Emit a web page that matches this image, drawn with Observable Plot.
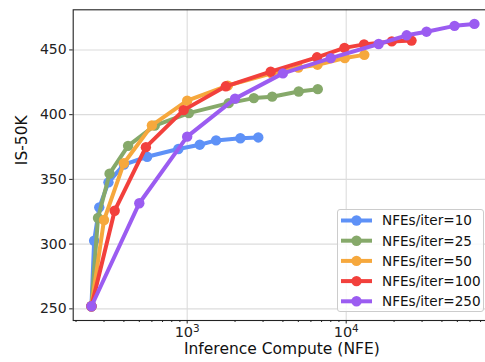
<!DOCTYPE html>
<html>
<head>
<meta charset="utf-8">
<script src="https://cdn.jsdelivr.net/npm/d3@7"></script>
<script src="https://cdn.jsdelivr.net/npm/@observablehq/plot@0.6"></script>
<style>
  html, body { margin: 0; padding: 0; background: white; overflow: hidden; }
  #wrap { position: relative; width: 485px; height: 362px; overflow: hidden; font-family: "DejaVu Sans", sans-serif; }
  #legend { position: absolute; left: 336.5px; top: 209px; width: 147px; height: 103px;
            border: 1px solid #cccccc; border-radius: 3px; background: rgba(255,255,255,0.8); box-sizing: border-box; }
  #legend svg { display: block; }
</style>
</head>
<body>
<div id="wrap"><div id="legend"></div></div>
<script>
// Inference compute (total NFEs) and IS-50K for each NFEs-per-iteration setting
const seriesNames = ["NFEs/iter=10", "NFEs/iter=25", "NFEs/iter=50", "NFEs/iter=100", "NFEs/iter=250"];
const seriesColors = ["#5e91f7", "#86a96a", "#f6a83d", "#f2403c", "#9b5cf1"];

const nfe10 = [250, 260, 280, 320, 400, 560, 880, 1200, 1520, 2160, 2800];
const is10  = [252, 302.6, 328.4, 347.7, 361.4, 367.5, 373.5, 376.8, 380.1, 381.8, 382.4];

const nfe25 = [250, 275, 325, 425, 625, 1025, 1825, 2625, 3425, 5025, 6625];
const is25  = [252, 320.2, 354.4, 375.9, 391.5, 401.2, 408.9, 412.8, 413.9, 417.9, 419.7];

const nfe50 = [250, 300, 400, 600, 1000, 1800, 3400, 5000, 6600, 9800, 13000];
const is50  = [252, 318.6, 362.5, 391.7, 410.8, 422.4, 432.0, 436.3, 438.6, 443.7, 446.2];

const nfe100 = [250, 350, 550, 950, 1750, 3350, 6550, 9750, 12950, 19350, 25750];
const is100  = [252, 325.8, 374.9, 403.5, 421.9, 433.2, 444.3, 451.6, 454.3, 456.6, 457.2];

const nfe250 = [250, 500, 1000, 2000, 4000, 8000, 16000, 24000, 32000, 48000, 64000];
const is250  = [252, 331.6, 383.0, 412.4, 431.9, 443.7, 454.6, 461.3, 464.1, 468.6, 470.1];

const yTicks = [250, 300, 350, 400, 450];
const xMajorTicks = [1000, 10000];
const xMajorExponents = ["3", "4"];
const xMinorTicks = [200, 300, 400, 500, 600, 700, 800, 900,
                     2000, 3000, 4000, 5000, 6000, 7000, 8000, 9000,
                     20000, 30000, 40000, 50000, 60000, 70000, 80000];

const xs = [nfe10, nfe25, nfe50, nfe100, nfe250];
const ys = [is10, is25, is50, is100, is250];
const rows = seriesNames.flatMap((name, k) =>
  xs[k].map((x, i) => ({series: name, nfe: x, is: ys[k][i]})));

const font = "DejaVu Sans";

const seriesMarks = seriesNames.flatMap(name => {
  const d = rows.filter(r => r.series === name);
  return [
    Plot.line(d, {x: "nfe", y: "is", stroke: "series", strokeWidth: 4, strokeLinejoin: "round", strokeLinecap: "round"}),
    Plot.dot(d, {x: "nfe", y: "is", fill: "series", r: 5.2})
  ];
});

const chart = Plot.plot({
  width: 490,
  height: 362,
  marginLeft: 72.7,
  marginRight: 0,
  marginTop: 9.3,
  marginBottom: 42,
  style: {fontFamily: font, maxWidth: "none", background: "white", overflow: "visible"},
  x: {type: "log", domain: [192, 80800], axis: null},
  y: {domain: [241, 481], axis: null},
  color: {domain: seriesNames, range: seriesColors},
  marks: [
    Plot.gridY(yTicks, {stroke: "#dcdcdc", strokeOpacity: 1, strokeWidth: 1.1}),
    Plot.gridX(xMajorTicks, {stroke: "#dcdcdc", strokeOpacity: 1, strokeWidth: 1.1}),
    ...seriesMarks,
    Plot.frame({stroke: "#222", strokeWidth: 1.1}),
    Plot.axisY(yTicks, {tickSize: 3.5, tickPadding: 3, fontSize: 14, fill: "#222", stroke: "#222", label: null}),
    Plot.axisX(xMajorTicks, {tickSize: 3.5, tickPadding: 2.5, fontSize: 14.5, fill: "#222", stroke: "#222", label: null,
                             tickFormat: d => "10^" + xMajorExponents[xMajorTicks.indexOf(d)]}),
    Plot.axisX(xMinorTicks, {tickSize: 2, stroke: "#222", tickFormat: () => "", label: null}),
    Plot.text(["IS-50K"], {frameAnchor: "left", dx: -51, rotate: -90, fontSize: 15.5, fill: "#111"}),
    Plot.text(["Inference Compute (NFE)"], {frameAnchor: "bottom", dy: 33.5, fontSize: 15.5, fill: "#111"})
  ]
});
document.getElementById("wrap").prepend(chart);

// Set the power-of-ten tick labels with a raised, smaller exponent
d3.select(chart).selectAll("text").each(function() {
  const t = d3.select(this);
  const m = /^10\^(\d+)$/.exec(t.text());
  if (!m) return;
  t.text(null);
  t.append("tspan").text("10");
  t.append("tspan").attr("dy", "-0.45em").attr("font-size", "0.72em").text(m[1]);
});

// Legend: line-and-marker handle followed by the series name
const leg = d3.select("#legend").append("svg").attr("width", 145).attr("height", 101);
seriesNames.forEach((name, i) => {
  const cy = 10.5 + i * 20.2;
  const g = leg.append("g");
  g.append("line").attr("x1", 3).attr("x2", 34).attr("y1", cy).attr("y2", cy)
    .attr("stroke", seriesColors[i]).attr("stroke-width", 4);
  g.append("circle").attr("cx", 18.5).attr("cy", cy).attr("r", 5.2).attr("fill", seriesColors[i]);
  g.append("text").attr("x", 44).attr("y", cy).attr("dy", "0.36em")
    .attr("font-family", font).attr("font-size", 13.6).attr("fill", "#111").text(name);
});
</script>
</body>
</html>
